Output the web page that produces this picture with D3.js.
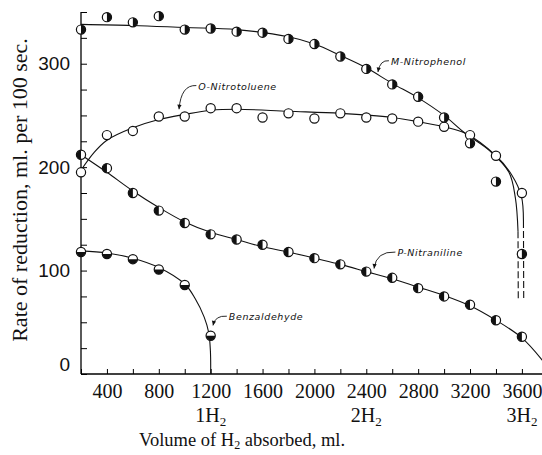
<!DOCTYPE html>
<html lang="en">
<head>
<meta charset="utf-8">
<title>Rate of reduction</title>
<script src="https://cdn.jsdelivr.net/npm/d3@7"></script>
<style>
  body { margin: 0; background: #fff; }
  svg { display: block; }
</style>
</head>
<body>
<script>
// volumes where readings were taken (ml H2 absorbed)
var volumes = [200, 400, 600, 800, 1000, 1200, 1400, 1600, 1800, 2000, 2200, 2400, 2600, 2800, 3000, 3200, 3400, 3600];
var nitrophenol  = [333, 345, 340, 346, 333, 334, 331, 330, 324, 319, 307, 295, 280, 268, 248, 223, 186, 116];
var nitrotoluene = [195, 231, 235, 249, 249, 257, 257, 248, 252, 247, 252, 248, 247, 244, 239, 231, 211, 175];
var nitraniline  = [212, 199, 175, 158, 146, 135, 130, 125, 118, 112, 106, 99, 93, 83, 75, 67, 52, 36];
var benzVolumes  = [200, 400, 600, 800, 1000, 1200];
var benzaldehyde = [118, 116, 111, 101, 86, 37];

// smooth curves drawn through the points
var nitrophenolFit = [[200,338],[600,337],[1000,335],[1400,333],[1800,326],[2000,319],[2200,308],[2400,296],[2600,281],[2800,267],[3000,250],[3160,233],[3350,216],[3500,195],[3550,170],[3570,138]];
var nitrophenolTail = [[3570,138],[3572,72]];
var nitrotolueneFit = [[200,197],[300,214],[400,226],[600,238],[800,246],[1000,251],[1200,255],[1400,256],[1800,254],[2200,252],[2600,248],[2800,244],[3000,239],[3160,233],[3400,211],[3524,192],[3596,172],[3612,148]];
var nitrotolueneTail = [[3612,148],[3614,72]];
var nitranilineFit = [[200,212],[400,195],[600,177],[800,161],[1000,147],[1200,137],[1400,130],[1600,123],[1800,118],[2000,112],[2200,106],[2400,99],[2600,92],[2800,84],[3000,76],[3200,66],[3400,52],[3600,35],[3760,13]];
var benzFit = [[200,119],[400,117],[600,112],[800,103],[1000,87],[1080,73],[1150,55],[1185,40],[1198,22],[1200,0]];

var xTickLabels = [400, 800, 1200, 1600, 2000, 2400, 2800, 3200, 3600];
var yTickLabels = [0, 100, 200, 300];
var molLabels = [[1200, "1"], [2400, "2"], [3600, "3"]];

var W = 542, H = 455;
var svg = d3.select("body").append("svg").attr("width", W).attr("height", H);

var x = d3.scaleLinear().domain([200, 3755]).range([81, 542]);
var y = d3.scaleLinear().domain([0, 350]).range([374, 12]);

// axes
var yAxis = d3.axisLeft(y).tickValues(d3.range(0, 351, 25)).tickSize(-6).tickPadding(11)
  .tickFormat(function(d){ return yTickLabels.indexOf(d) >= 0 ? d : ""; });
var gy = svg.append("g").attr("transform", "translate(81,0)").call(yAxis);
gy.select(".domain").attr("d", "M0," + y(350) + "V" + y(0)).attr("stroke-width", 1.3);
gy.selectAll("text").attr("font-family", "Liberation Sans, Arial, sans-serif").attr("font-size", 19).attr("fill", "#111");
gy.selectAll(".tick").filter(function(d){ return d == 0; }).select("text").attr("dy", "-0.2em");

var xAxis = d3.axisBottom(x).tickValues(d3.range(200, 3800, 200)).tickSize(-5).tickPadding(10)
  .tickFormat(function(d){ return xTickLabels.indexOf(d) >= 0 ? d : ""; });
var gx = svg.append("g").attr("transform", "translate(0,374)").call(xAxis);
gx.select(".domain").attr("d", "M81,0H542").attr("stroke-width", 1.3);
gx.selectAll("text").attr("font-family", "Liberation Serif, Times New Roman, serif").attr("font-size", 20).attr("fill", "#111");

// 1H2 2H2 3H2
var mol = svg.append("g").selectAll("text").data(molLabels).enter().append("text")
  .attr("x", function(d){ return x(d[0]); }).attr("y", 422)
  .attr("text-anchor", "middle")
  .attr("font-family", "Liberation Serif, serif").attr("font-size", 20).attr("fill", "#111");
mol.append("tspan").text(function(d){ return d[1] + "H"; });
mol.append("tspan").attr("dy", 4).attr("font-size", 13).text("2");

// axis titles
var xt = svg.append("text").attr("x", 242).attr("y", 446).attr("text-anchor", "middle")
  .attr("font-family", "Liberation Serif, serif").attr("font-size", 18.5).attr("fill", "#111");
xt.append("tspan").text("Volume of H");
xt.append("tspan").attr("dy", 3).attr("font-size", 12).text("2");
xt.append("tspan").attr("dy", -3).text(" absorbed, ml.");

svg.append("text").attr("transform", "translate(27,190) rotate(-90)").attr("text-anchor", "middle")
  .attr("font-family", "Liberation Serif, serif").attr("font-size", 22).attr("fill", "#111")
  .text("Rate of reduction, ml. per 100 sec.");

// curves
var line = d3.line().x(function(d){ return x(d[0]); }).y(function(d){ return y(d[1]); })
  .curve(d3.curveCatmullRom.alpha(0.5));
svg.append("defs").append("clipPath").attr("id", "clip").append("rect")
  .attr("x", 81).attr("y", 0).attr("width", W - 81).attr("height", 374);
var curves = svg.append("g").attr("clip-path", "url(#clip)")
  .attr("fill", "none").attr("stroke", "#111").attr("stroke-width", 1.1);
[nitrophenolFit, nitrotolueneFit, nitranilineFit, benzFit].forEach(function(c){
  curves.append("path").attr("d", line(c));
});
[nitrophenolTail, nitrotolueneTail].forEach(function(c){
  curves.append("path").attr("d", line(c)).attr("stroke-dasharray", "7,3");
});

// markers
var R = 4.6;
var arc = d3.arc().innerRadius(0).outerRadius(R);
function drawSeries(xs, ys, start, end) {
  var pts = xs.map(function(v, i){ return [v, ys[i]]; });
  var g = svg.append("g").selectAll("g").data(pts).enter().append("g")
    .attr("transform", function(d){ return "translate(" + x(d[0]) + "," + y(d[1]) + ")"; });
  g.append("circle").attr("r", R).attr("fill", "#fff").attr("stroke", "#111").attr("stroke-width", 1.2);
  if (start != null)
    g.append("path").attr("d", arc({startAngle: start, endAngle: end})).attr("fill", "#111");
}
drawSeries(volumes, nitrotoluene, null, null);
drawSeries(volumes, nitrophenol, 0, Math.PI);
drawSeries(volumes, nitraniline, Math.PI, 2 * Math.PI);
drawSeries(benzVolumes, benzaldehyde, Math.PI / 2, 3 * Math.PI / 2);

// curve labels with little leader arrows: text start and arrow tip in data units
var notes = [
  {text: "M-Nitrophenol",  at: [2590, 299], tip: [2490, 292]},
  {text: "O-Nitrotoluene", at: [1105, 275], tip: [956, 256]},
  {text: "P-Nitraniline",  at: [2640, 114], tip: [2460, 102]},
  {text: "Benzaldehyde",   at: [1340, 52],  tip: [1218, 47]}
];
var ng = svg.append("g");
notes.forEach(function(n){
  var sx = x(n.at[0]), sy = y(n.at[1]) - 4, tx = x(n.tip[0]), ty = y(n.tip[1]);
  var p = d3.path();
  p.moveTo(sx - 2, sy);
  p.quadraticCurveTo(tx + 2, sy - 1, tx, ty);
  ng.append("path").attr("d", p.toString()).attr("fill", "none").attr("stroke", "#111").attr("stroke-width", 0.9);
  // arrow head
  var ang = Math.atan2(ty - sy, -2);
  var a1 = ang + 2.7, a2 = ang - 2.7;
  ng.append("path").attr("d", "M" + tx + "," + ty + "L" + (tx + 5 * Math.cos(a1)) + "," + (ty + 5 * Math.sin(a1)) +
    "L" + (tx + 5 * Math.cos(a2)) + "," + (ty + 5 * Math.sin(a2)) + "Z").attr("fill", "#111");
  ng.append("text").attr("x", sx).attr("y", sy + 4).text(n.text)
    .attr("font-family", "DejaVu Sans, sans-serif").attr("font-style", "italic")
    .attr("font-size", 9.5).attr("letter-spacing", 0.6).attr("fill", "#111");
});
</script>
</body>
</html>
